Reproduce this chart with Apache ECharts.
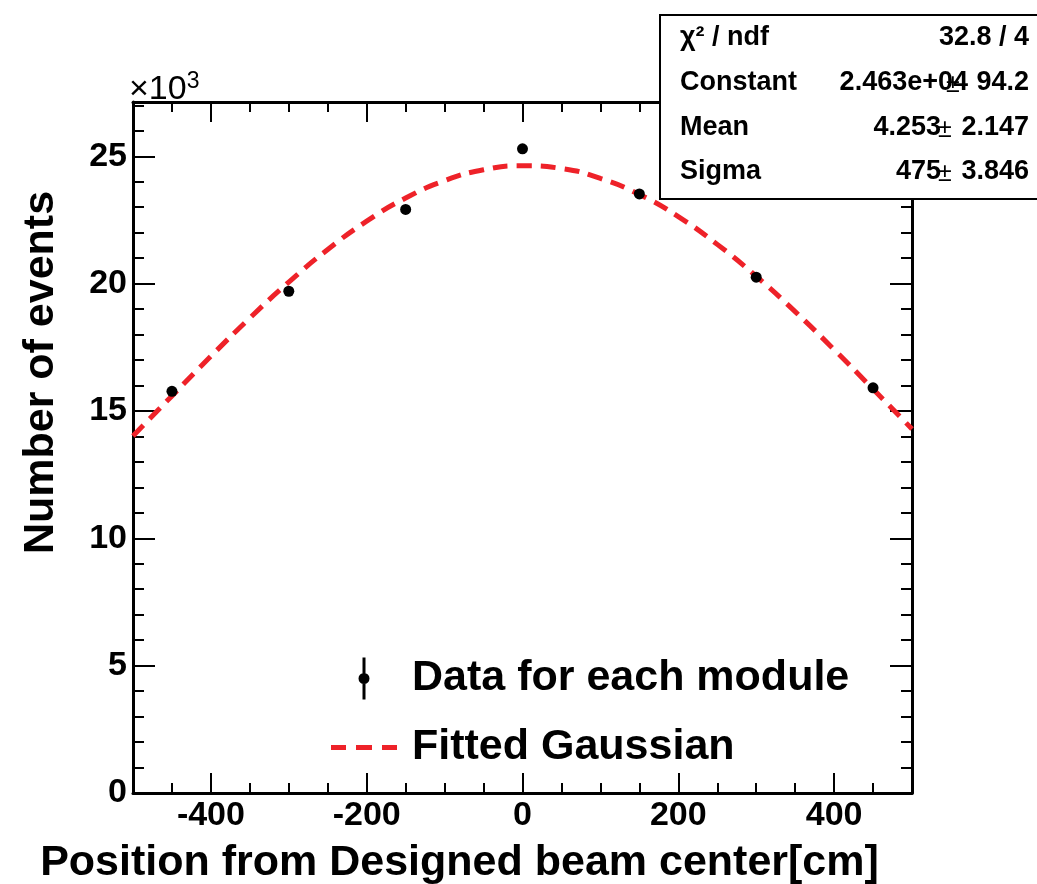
<!DOCTYPE html>
<html>
<head>
<meta charset="utf-8">
<script src="https://cdn.jsdelivr.net/npm/echarts@6/dist/echarts.min.js"></script>
<style>
  html, body { margin: 0; padding: 0; background: #fff; }
  #chart { width: 1037px; height: 884px; }
</style>
</head>
<body>
<div id="chart"></div>
<script>
// measured points (position in cm, events)
const dataX = [-450, -300, -150, 0, 150, 300, 450];
const dataY = [15770, 19700, 22910, 25290, 23520, 20250, 15910];

// fitted gaussian curve, every 50 cm
const fitX = [-500, -450, -400, -350, -300, -250, -200, -150, -100, -50, 0,
              50, 100, 150, 200, 250, 300, 350, 400, 450, 500];
const fitY = [14020, 15590, 17150, 18650, 20060, 21340, 22450, 23360, 24040, 24470, 24630,
              24520, 24130, 23500, 22630, 21540, 20290, 18900, 17410, 15860, 14290];

// axis ticks
const xMajor = [-400, -200, 0, 200, 400];
const xMinor = [-450, -350, -300, -250, -150, -100, -50, 50, 100, 150, 250, 300, 350, 450];
const yMajor = [0, 5000, 10000, 15000, 20000, 25000];
const yMinor = [1000, 2000, 3000, 4000, 6000, 7000, 8000, 9000, 11000, 12000, 13000, 14000,
                16000, 17000, 18000, 19000, 21000, 22000, 23000, 24000, 26000, 27000];

// fit results box
const statNames = ['χ² / ndf', 'Constant', 'Mean', 'Sigma'];
const statVals = ['', '2.463e+04', '4.253', '475'];
const statErrs = ['32.8 / 4', '94.2', '2.147', '3.846'];

const FONT = '"Liberation Sans", Arial, Helvetica, sans-serif';
const black = '#000';
const red = '#ee2229';

const chart = echarts.init(document.getElementById('chart'));

function xAxisDef (pos, ticks, len, withLine, labels) {
  return {
    type: 'value', position: pos, min: -500, max: 500,
    axisLine: { show: withLine, onZero: false, lineStyle: { color: black, width: 3 } },
    axisTick: { show: true, inside: true, length: len, customValues: ticks,
                lineStyle: { color: black, width: 2 } },
    axisLabel: labels ? {
      show: true, customValues: ticks, margin: 6,
      fontFamily: FONT, fontWeight: 'bold', fontSize: 34, color: black
    } : { show: false },
    splitLine: { show: false }
  };
}
function yAxisDef (pos, ticks, len, withLine, labels) {
  return {
    type: 'value', position: pos, min: 0, max: 27130,
    axisLine: { show: withLine, onZero: false, lineStyle: { color: black, width: 3 } },
    axisTick: { show: true, inside: true, length: len, customValues: ticks,
                lineStyle: { color: black, width: 2 } },
    axisLabel: labels ? {
      show: true, customValues: ticks, margin: 6,
      fontFamily: FONT, fontWeight: 'bold', fontSize: 34, color: black,
      formatter: v => String(v / 1000)
    } : { show: false },
    splitLine: { show: false }
  };
}

const xMain = xAxisDef('bottom', xMajor, 20, true, true);
xMain.name = 'Position from Designed beam center[cm]';
xMain.nameLocation = 'middle';
xMain.nameGap = 49;
xMain.nameTextStyle = { fontFamily: FONT, fontWeight: 'bold', fontSize: 43, color: black,
                        padding: [0, 126, 0, 0] };

const yMain = yAxisDef('left', yMajor, 22, true, true);
yMain.name = 'Number of events';
yMain.nameLocation = 'middle';
yMain.nameGap = 70;
yMain.nameTextStyle = { fontFamily: FONT, fontWeight: 'bold', fontSize: 43, color: black,
                        padding: [0, 0, 0, 150] };

// stats box texts
const statGraphics = [{
  type: 'rect', shape: { x: 660, y: 15, width: 400, height: 184 },
  style: { fill: '#fff', stroke: black, lineWidth: 2 }, z: 100
}];
const rowY = [38, 83, 128, 172];
statNames.forEach((n, i) => {
  const ts = { fontFamily: FONT, fontWeight: 'bold', fontSize: 27, fill: black, textVerticalAlign: 'middle' };
  statGraphics.push({ type: 'text', x: 680, y: rowY[i], z: 101,
    style: Object.assign({ text: n, textAlign: 'left' }, ts) });
  statGraphics.push({ type: 'text', x: 1029, y: rowY[i], z: 101,
    style: Object.assign({ text: statErrs[i], textAlign: 'right' }, ts) });
  if (statVals[i]) {
    statGraphics.push({ type: 'text', x: i === 1 ? 968 : 941, y: rowY[i], z: 101,
      style: Object.assign({ text: statVals[i], textAlign: 'right' }, ts) });
    statGraphics.push({ type: 'text', x: i === 1 ? 946 : 938, y: rowY[i] + 2, z: 101,
      style: Object.assign({ text: '±', textAlign: 'left' }, ts, { fontSize: 25, fontWeight: 'normal' }) });
  }
});

chart.setOption({
  animation: false,
  backgroundColor: '#fff',
  grid: { left: 133, right: 125, top: 102, bottom: 91, containLabel: false, outerBoundsMode: 'none' },
  xAxis: [
    xMain,
    xAxisDef('bottom', xMinor, 10, false, false),
    xAxisDef('top', xMajor, 20, true, false),
    xAxisDef('top', xMinor, 10, false, false)
  ],
  yAxis: [
    yMain,
    yAxisDef('left', yMinor, 11, false, false),
    yAxisDef('right', yMajor, 22, true, false),
    yAxisDef('right', yMinor, 11, false, false)
  ],
  legend: {
    orient: 'vertical', left: 326, top: 652,
    itemWidth: 66, itemHeight: 42, itemGap: 26,
    textStyle: { fontFamily: FONT, fontWeight: 'bold', fontSize: 43, color: black,
                 padding: [0, 0, 0, 10] },
    data: [
      { name: 'Data for each module',
        icon: 'path://M-1.5,-21h3v42h-3z M0,-5.5a5.5,5.5 0 1,1 -0.01,0z' },
      { name: 'Fitted Gaussian',
        icon: 'path://M0,0h15v5h-15z M25,0h16v5h-16z M51,0h15v5h-15z' }
    ]
  },
  graphic: [
    { type: 'text', left: 129, top: 70,
      style: { text: '{a|×10}{b|3}', rich: {
        a: { fontFamily: FONT, fontSize: 34, fill: black, verticalAlign: 'bottom' },
        b: { fontFamily: FONT, fontSize: 23, fill: black, verticalAlign: 'top', padding: [0, 0, 14, 0] }
      } } }
  ].concat(statGraphics),
  series: [
    {
      name: 'Fitted Gaussian', type: 'line', smooth: true, showSymbol: false,
      xAxisIndex: 0, yAxisIndex: 0,
      data: fitX.map((x, i) => [x, fitY[i]]),
      itemStyle: { color: red },
      lineStyle: { color: red, width: 5, type: [15, 9] },
      z: 3
    },
    {
      name: 'Data for each module', type: 'scatter',
      xAxisIndex: 0, yAxisIndex: 0,
      data: dataX.map((x, i) => [x, dataY[i]]),
      symbol: 'circle', symbolSize: 11,
      itemStyle: { color: black, opacity: 1 },
      z: 5
    }
  ]
});
</script>
</body>
</html>
